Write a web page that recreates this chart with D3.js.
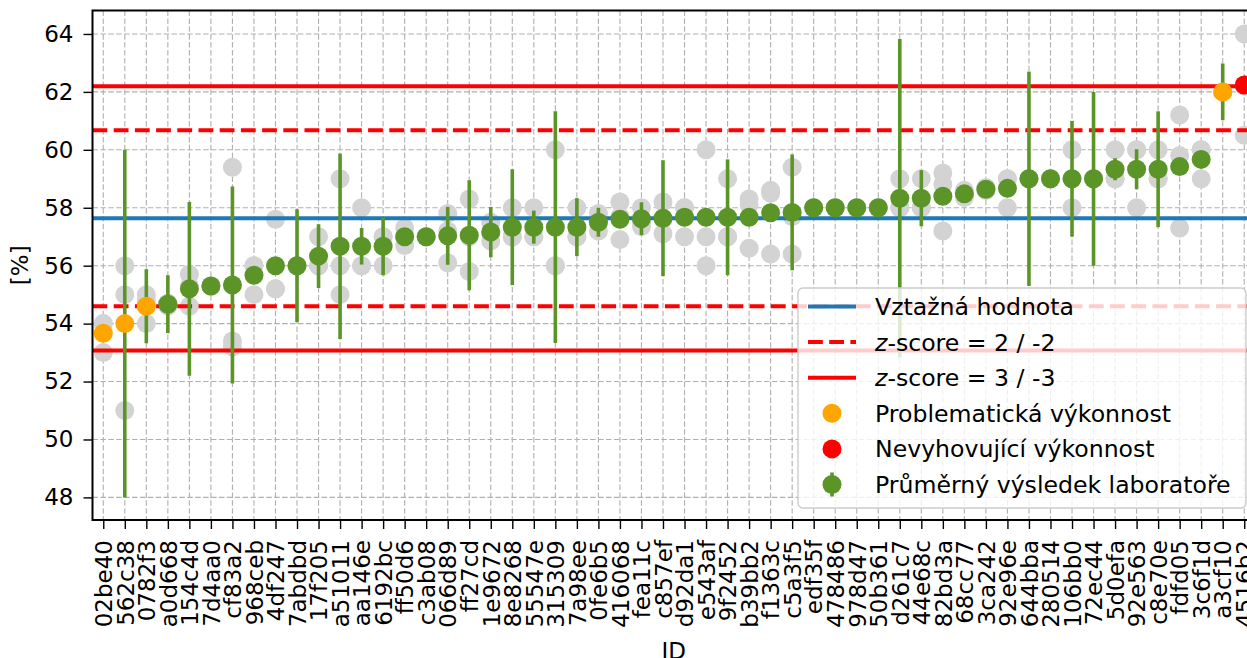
<!DOCTYPE html>
<html><head><meta charset="utf-8">
<script src="https://cdn.jsdelivr.net/npm/d3@7"></script>
<style>body{margin:0;background:#fff}svg{display:block;font-family:"DejaVu Sans",sans-serif}</style>
</head><body><svg id="c" width="1247" height="658"></svg>
<script>
const labels = ["02be40","562c38","0782f3","a0d668","154c4d","7d4aa0","cf83a2","968ceb","4df247","7abdbd","17f205","a51011","aa146e","6192bc","ff50d6","c3ab08","066d89","ff27cd","1e9672","8e8268","55547e","315309","7a98ee","0fe6b5","416068","fea11c","c857ef","d92da1","e543af","9f2452","b39bb2","f1363c","c5a3f5","edf35f","478486","978d47","50b361","d261c7","44e68c","82bd3a","68cc77","3ca242","92e96e","644bba","280514","106bb0","72ec44","5d0efa","92e563","c8e70e","fdfd05","3c6f1d","a3cf10","4516b2"];
const means = [53.67,54.0,54.6,54.67,55.2,55.3,55.33,55.67,56.0,56.0,56.33,56.67,56.67,56.67,57.0,57.0,57.03,57.05,57.16,57.33,57.33,57.33,57.33,57.5,57.6,57.62,57.64,57.67,57.67,57.67,57.67,57.83,57.84,58.0,58.0,58.0,58.0,58.33,58.33,58.4,58.48,58.64,58.67,59.0,59.0,59.0,59.0,59.33,59.33,59.33,59.42,59.67,62.0,62.24];
const errors = [0,6.0,1.28,1.0,3.0,0,3.4,0,0,1.95,1.1,3.2,0.63,1.0,0,0,1.0,1.9,0.87,2.0,0.57,4.0,1.0,0.5,0,0.57,2.0,0,0,2.0,0,0,2.0,0,0,0,0,5.5,0.97,0,0,0,0,3.7,0,2.0,3.0,0.38,0.69,2.0,0,0,0.98,0];
const replicates = [[54,54,53],[56,55,51],[55,54.8,54],[54.7,54.7,54.6],[55.7,55.3,54.6],[55.3,55.3,55.3],[59.4,53.4,53.2],[56,56,55],[57.6,55.2,55.2],[56,56,56],[57,56,56],[59,56,55],[58,56,56],[57,57,56],[57.3,57,56.7],[57,57,57],[57.8,57.2,56.1],[58.3,57.0,55.8],[57.5,57.13,56.85],[58,57,57],[58,57,57],[60,56,56],[58,57,57],[57.8,57.5,57.2],[58.2,57.7,56.9],[58,57.5,57.35],[58.2,57.6,57.1],[58,58,57],[60,57,56],[59,57,57],[58.3,58.1,56.6],[58.6,58.5,56.4],[59.4,57.7,56.4],[58,58,58],[58,58,58],[58,58,58],[58,58,58],[59,58,58],[59,58,58],[59.2,58.8,57.2],[58.6,58.5,58.35],[58.7,58.6,58.6],[59,59,58],[59,59,59],[59,59,59],[60,59,58],[59,59,59],[60,59,59],[60,60,58],[60,59,59],[61.2,59.8,57.3],[60,60,59],[62,62,62],[64,62.2,60.5]];
const status = ["warn","warn","warn","ok","ok","ok","ok","ok","ok","ok","ok","ok","ok","ok","ok","ok","ok","ok","ok","ok","ok","ok","ok","ok","ok","ok","ok","ok","ok","ok","ok","ok","ok","ok","ok","ok","ok","ok","ok","ok","ok","ok","ok","ok","ok","ok","ok","ok","ok","ok","ok","ok","warn","fail"];
const yTicks = [48,50,52,54,56,58,60,62,64];
const assigned = 57.636, sigma = 1.52;
const legendLabels = ["Vztažná hodnota","z-score = 2 / -2","z-score = 3 / -3","Problematická výkonnost","Nevyhovující výkonnost","Průměrný výsledek laboratoře"];

const W=1247,H=658, L=92.5, R=1255, T=10.5, B=520;
const FS = 23, LFS = 23.6;
const svg = d3.select("#c");
const x = d3.scalePoint().domain(labels).range([L,R]).padding(0.5);
const y = d3.scaleLinear().domain([47.22,64.81]).range([B,T]);
const green="#5b9427", orange="#ffa500", red="#ff0000", blue="#1f77b4", gray="#d3d3d3";
const colorOf = s => s==="fail"?red:(s==="warn"?orange:green);

// grid
const g = svg.append("g");
g.selectAll(".gx").data(labels).join("line").attr("x1",d=>x(d)).attr("x2",d=>x(d)).attr("y1",T).attr("y2",B)
 .attr("stroke","#b0b0b0").attr("stroke-width",1.1).attr("stroke-dasharray","5.5,2.4");
g.selectAll(".gy").data(yTicks).join("line").attr("x1",L).attr("x2",R).attr("y1",d=>y(d)).attr("y2",d=>y(d))
 .attr("stroke","#b0b0b0").attr("stroke-width",1.1).attr("stroke-dasharray","5.5,2.4");

// replicates
const reps = [];
labels.forEach((l,i)=>replicates[i].forEach(v=>reps.push({l,v})));
svg.append("g").selectAll("circle").data(reps).join("circle")
 .attr("cx",d=>x(d.l)).attr("cy",d=>y(d.v)).attr("r",9.5).attr("fill",gray);

// reference lines
const hl = [
 {v:assigned,c:blue,dash:null},
 {v:assigned+2*sigma,c:red,dash:"14.8,6.4"},
 {v:assigned-2*sigma,c:red,dash:"14.8,6.4"},
 {v:assigned+3*sigma,c:red,dash:null},
 {v:assigned-3*sigma,c:red,dash:null}];
svg.append("g").selectAll("line").data(hl).join("line")
 .attr("x1",L).attr("x2",R).attr("y1",d=>y(d.v)).attr("y2",d=>y(d.v))
 .attr("stroke",d=>d.c).attr("stroke-width",4).attr("stroke-dasharray",d=>d.dash);

// error bars
const eb = labels.map((l,i)=>({l,m:means[i],e:errors[i]})).filter(d=>d.e>0);
svg.append("g").selectAll("line").data(eb).join("line")
 .attr("x1",d=>x(d.l)).attr("x2",d=>x(d.l)).attr("y1",d=>y(d.m+d.e)).attr("y2",d=>y(d.m-d.e))
 .attr("stroke",green).attr("stroke-width",3.6);
// means
svg.append("g").selectAll("circle").data(labels).join("circle")
 .attr("cx",d=>x(d)).attr("cy",(d,i)=>y(means[i])).attr("r",9.5).attr("fill",(d,i)=>colorOf(status[i]));

// axes
const ax = svg.append("g").attr("transform",`translate(0,${B})`)
 .call(d3.axisBottom(x).tickSize(9).tickPadding(11));
ax.select(".domain").remove();
ax.selectAll(".tick line").attr("stroke","#000").attr("stroke-width",1.4);
ax.selectAll(".tick text").attr("font-size",FS).attr("font-family","DejaVu Sans").attr("fill","#000")
 .attr("transform","rotate(-90)").attr("text-anchor","end").attr("dy","0.36em").attr("x",-20).attr("y",0);
const ay = svg.append("g").attr("transform",`translate(${L},0)`)
 .call(d3.axisLeft(y).tickValues(yTicks).tickSize(9).tickPadding(10));
ay.select(".domain").remove();
ay.selectAll(".tick line").attr("stroke","#000").attr("stroke-width",1.4);
ay.selectAll(".tick text").attr("font-size",FS).attr("font-family","DejaVu Sans").attr("fill","#000");
// spines
svg.append("rect").attr("x",L).attr("y",T).attr("width",R-L).attr("height",B-T)
 .attr("fill","none").attr("stroke","#000").attr("stroke-width",2);

svg.append("text").attr("x",(L+R)/2).attr("y",659).attr("text-anchor","middle").attr("font-size",FS).text("ID");
svg.append("text").attr("transform",`translate(28,${(T+B)/2}) rotate(-90)`).attr("text-anchor","middle").attr("font-size",FS).text("[%]");

// legend
const lg = svg.append("g");
lg.append("rect").attr("x",798).attr("y",288).attr("width",448).attr("height",220).attr("rx",5)
 .attr("fill","#fff").attr("fill-opacity",0.8).attr("stroke","#cccccc").attr("stroke-width",1.4);
const rowY = k => 306.5 + 35.6*k;
legendLabels.forEach((t,k)=>{
  const yy = rowY(k);
  if(k<3){
    lg.append("line").attr("x1",808).attr("x2",856).attr("y1",yy).attr("y2",yy)
      .attr("stroke",k===0?blue:red).attr("stroke-width",4).attr("stroke-dasharray",k===1?"14.8,6.4":null);
  } else {
    if(k===5) lg.append("line").attr("x1",832).attr("x2",832).attr("y1",yy-12).attr("y2",yy+12).attr("stroke",green).attr("stroke-width",3.6);
    lg.append("circle").attr("cx",832).attr("cy",yy).attr("r",9.5).attr("fill",k===3?orange:(k===4?red:green));
  }
  const tx = lg.append("text").attr("x",875).attr("y",yy).attr("dy","0.36em").attr("font-size",LFS);
  if(t.startsWith("z-")){ tx.append("tspan").attr("font-style","italic").text("z"); tx.append("tspan").text(t.slice(1)); }
  else tx.text(t);
});
</script></body></html>
